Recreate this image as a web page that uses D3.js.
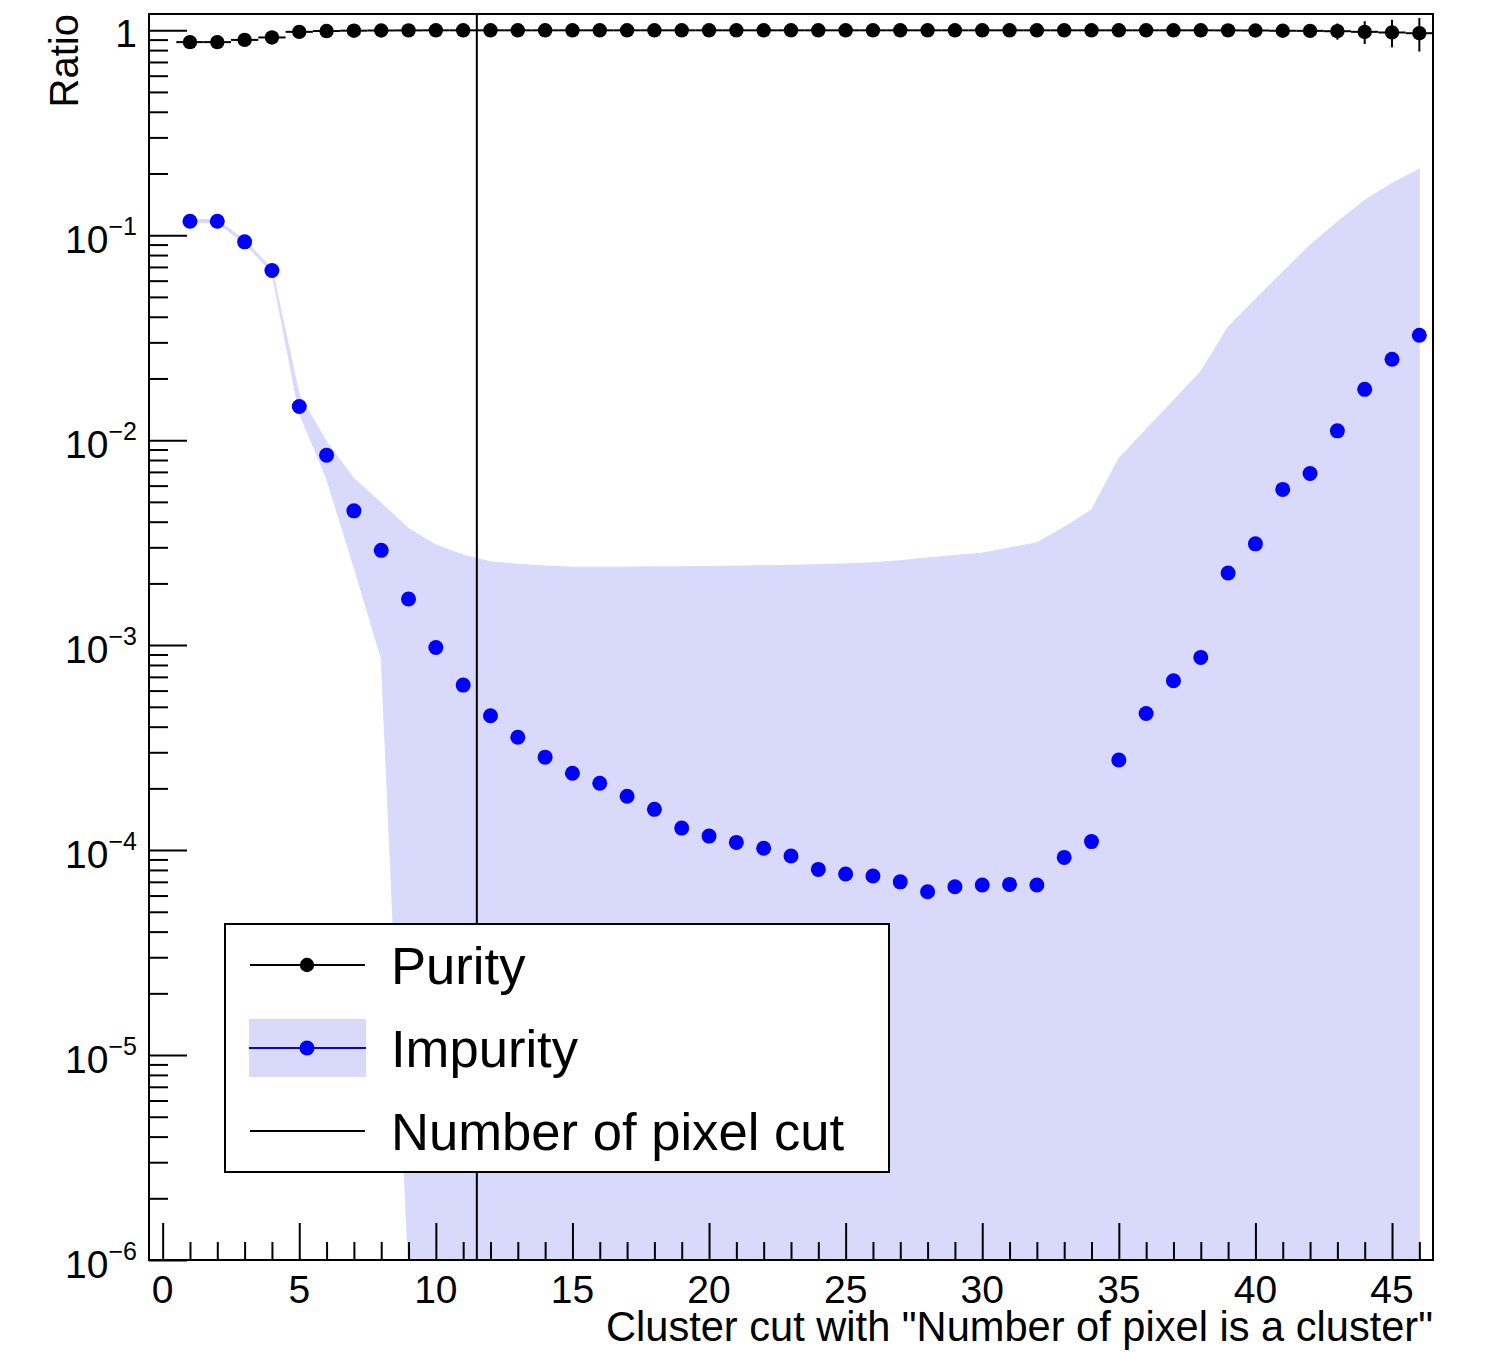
<!DOCTYPE html>
<html>
<head>
<meta charset="utf-8">
<script src="https://cdn.jsdelivr.net/npm/d3@7"></script>
<style>
  body { margin: 0; background: #fff; }
  svg { display: block; }
  text { font-family: "Liberation Sans", Arial, Helvetica, sans-serif; fill: #000; }
</style>
</head>
<body>
<svg id="chart" width="1485" height="1352"></svg>
<script>
// Cluster-size cut (number of pixels in a cluster)
const cuts = [1, 2, 3, 4, 5, 6, 7, 8, 9, 10, 11, 12, 13, 14, 15, 16, 17, 18, 19, 20, 21, 22, 23,
              24, 25, 26, 27, 28, 29, 30, 31, 32, 33, 34, 35, 36, 37, 38, 39, 40, 41, 42, 43, 44, 45, 46];

// Purity with symmetric uncertainty
const purity = [0.875, 0.875, 0.897, 0.922, 0.982, 0.991, 0.995, 0.997, 0.998, 0.999, 0.999, 0.999,
                0.999, 0.999, 0.999, 0.999, 0.999, 0.999, 0.999, 0.999, 0.999, 0.999, 0.999, 0.999,
                0.999, 0.999, 0.999, 0.999, 0.999, 0.999, 0.999, 0.999, 0.999, 0.999, 0.999, 0.999,
                0.999, 0.999, 0.998, 0.997, 0.994, 0.993, 0.989, 0.982, 0.975, 0.967];
const purityErr = [0.002, 0.002, 0.002, 0.002, 0.003, 0.003, 0.003, 0.004, 0.004, 0.004, 0.005, 0.005,
                   0.005, 0.006, 0.006, 0.006, 0.007, 0.007, 0.008, 0.008, 0.009, 0.009, 0.010, 0.010,
                   0.011, 0.011, 0.012, 0.012, 0.013, 0.014, 0.015, 0.016, 0.018, 0.020, 0.022, 0.025,
                   0.028, 0.031, 0.035, 0.042, 0.050, 0.065, 0.090, 0.125, 0.150, 0.180];

// Impurity and its asymmetric uncertainty band (lower / upper edges)
const impurity = [0.117, 0.117, 0.0928, 0.0673, 0.0146, 0.00845, 0.00452, 0.00290, 0.00168, 0.000974,
                  0.000638, 0.000452, 0.000355, 0.000284, 0.000237, 0.000212, 0.000183, 0.000158,
                  0.000128, 0.000117, 0.000109, 0.000102, 9.35e-5, 8.05e-5, 7.64e-5, 7.47e-5, 7.00e-5,
                  6.26e-5, 6.62e-5, 6.75e-5, 6.80e-5, 6.75e-5, 9.21e-5, 0.000110, 0.000275, 0.000464,
                  0.000670, 0.000871, 0.00225, 0.00312, 0.00575, 0.00688, 0.0111, 0.0177, 0.0248, 0.0325];
const impurityUp = [0.119, 0.119, 0.0945, 0.0686, 0.0166, 0.00981, 0.00650, 0.00493, 0.00371, 0.00308,
                    0.00275, 0.00255, 0.00248, 0.00243, 0.00240, 0.00240, 0.00240, 0.00241, 0.00241,
                    0.00242, 0.00243, 0.00244, 0.00245, 0.00247, 0.00249, 0.00252, 0.00258, 0.00266,
                    0.00274, 0.00281, 0.00298, 0.00316, 0.00376, 0.00456, 0.00814, 0.0113, 0.0156,
                    0.0216, 0.0357, 0.0488, 0.0662, 0.0894, 0.116, 0.148, 0.179, 0.210];
const impurityLow = [0.115, 0.115, 0.0911, 0.0660, 0.01354, 0.00650, 0.00241, 0.000865, 9e-7, 9e-7,
                     9e-7, 9e-7, 9e-7, 9e-7, 9e-7, 9e-7, 9e-7, 9e-7, 9e-7, 9e-7, 9e-7, 9e-7, 9e-7,
                     9e-7, 9e-7, 9e-7, 9e-7, 9e-7, 9e-7, 9e-7, 9e-7, 9e-7, 9e-7, 9e-7, 9e-7, 9e-7,
                     9e-7, 9e-7, 9e-7, 9e-7, 9e-7, 9e-7, 9e-7, 9e-7, 9e-7, 9e-7];

// Chosen cut on the number of pixels
const pixelCut = 11.5;

// Axis ticks
const xMajorTicks = [0, 5, 10, 15, 20, 25, 30, 35, 40, 45];
const xTickLabels = ["0", "5", "10", "15", "20", "25", "30", "35", "40", "45"];
const yDecades = [1e-6, 1e-5, 1e-4, 1e-3, 1e-2, 1e-1, 1];
const yDecadeExp = [-6, -5, -4, -3, -2, -1, 0];

const legendLabels = ["Purity", "Impurity", "Number of pixel cut"];

// ---------------------------------------------------------------------------
const svg = d3.select("#chart");
const frame = { left: 149, right: 1433, top: 14, bottom: 1260 };

const x = d3.scaleLinear().domain([-0.5, 46.5]).range([frame.left, frame.right]);
const y = d3.scaleLog().domain([1e-6, 1.2]).range([frame.bottom, frame.top]);

const bandColor = "rgb(217,217,252)";
const blue = "#0000ff";

svg.append("defs").append("clipPath").attr("id", "plotClip")
  .append("rect")
  .attr("x", frame.left).attr("y", frame.top)
  .attr("width", frame.right - frame.left).attr("height", frame.bottom - frame.top);

const plot = svg.append("g").attr("clip-path", "url(#plotClip)");

// Impurity uncertainty band
const bandData = cuts.map((c, i) => ({ c, lo: impurityLow[i], hi: impurityUp[i] }));
plot.append("path")
  .datum(bandData)
  .attr("fill", bandColor)
  .attr("stroke", bandColor)
  .attr("stroke-width", 1)
  .attr("d", d3.area().x(d => x(d.c)).y0(d => y(d.lo)).y1(d => y(d.hi)));

// Vertical cut line
plot.append("line")
  .attr("x1", x(pixelCut)).attr("x2", x(pixelCut))
  .attr("y1", frame.top).attr("y2", frame.bottom)
  .attr("stroke", "#000").attr("stroke-width", 2);

// Purity: horizontal (bin width) and vertical error bars, then markers
const purityData = cuts.map((c, i) => ({ c, v: purity[i], e: purityErr[i] }));
const pg = plot.append("g");
pg.selectAll("line.xerr").data(purityData).join("line")
  .attr("class", "xerr")
  .attr("x1", d => x(d.c - 0.5)).attr("x2", d => x(d.c + 0.5))
  .attr("y1", d => y(d.v)).attr("y2", d => y(d.v))
  .attr("stroke", "#000").attr("stroke-width", 2);
pg.selectAll("line.yerr").data(purityData).join("line")
  .attr("class", "yerr")
  .attr("x1", d => x(d.c)).attr("x2", d => x(d.c))
  .attr("y1", d => y(d.v + d.e)).attr("y2", d => y(d.v - d.e))
  .attr("stroke", "#000").attr("stroke-width", 2);
pg.selectAll("circle").data(purityData).join("circle")
  .attr("cx", d => x(d.c)).attr("cy", d => y(d.v)).attr("r", 7.2)
  .attr("fill", "#000");

// Impurity markers
const impData = cuts.map((c, i) => ({ c, v: impurity[i] }));
plot.append("g").selectAll("circle").data(impData).join("circle")
  .attr("cx", d => x(d.c)).attr("cy", d => y(d.v)).attr("r", 7.5)
  .attr("fill", blue);

// Frame
svg.append("rect")
  .attr("x", frame.left).attr("y", frame.top)
  .attr("width", frame.right - frame.left).attr("height", frame.bottom - frame.top)
  .attr("fill", "none").attr("stroke", "#000").attr("stroke-width", 2);

// X axis: ticks drawn inward
const xMinor = cuts.concat([0]).filter(v => !xMajorTicks.includes(v));
const xAxisMajor = d3.axisBottom(x).tickValues(xMajorTicks).tickSize(-37).tickFormat("");
const xAxisMinor = d3.axisBottom(x).tickValues(xMinor).tickSize(-18).tickFormat("");
[xAxisMajor, xAxisMinor].forEach(ax => {
  const g = svg.append("g").attr("transform", `translate(0,${frame.bottom})`).call(ax);
  g.select(".domain").remove();
  g.selectAll(".tick line").attr("stroke", "#000").attr("stroke-width", 2);
});
svg.append("g").selectAll("text").data(xMajorTicks).join("text")
  .attr("x", d => x(d)).attr("y", 1303)
  .attr("text-anchor", "middle").attr("font-size", 39)
  .text((d, i) => xTickLabels[i]);

// Y axis: log decades and 2..9 minor ticks
const yMinor = [];
yDecades.forEach(dec => { for (let k = 2; k <= 9; k++) { const v = dec * k; if (v <= 1.2) yMinor.push(v); } });
const yAxisMajor = d3.axisLeft(y).tickValues(yDecades).tickSize(-38).tickFormat("");
const yAxisMinor = d3.axisLeft(y).tickValues(yMinor).tickSize(-19).tickFormat("");
[yAxisMajor, yAxisMinor].forEach(ax => {
  const g = svg.append("g").attr("transform", `translate(${frame.left},0)`).call(ax);
  g.select(".domain").remove();
  g.selectAll(".tick line").attr("stroke", "#000").attr("stroke-width", 2);
});
const yLab = svg.append("g");
yDecades.forEach((v, i) => {
  const e = yDecadeExp[i];
  const t = yLab.append("text")
    .attr("x", 137).attr("y", y(v) + 18)
    .attr("text-anchor", "end").attr("font-size", 39);
  if (e === 0) {
    t.attr("y", y(v) + 17).text("1");
  } else {
    t.append("tspan").text("10");
    t.append("tspan").attr("dy", -18).attr("font-size", 25).text("\u2212" + Math.abs(e));
  }
});

// Axis titles
svg.append("text")
  .attr("x", frame.right).attr("y", 1341)
  .attr("text-anchor", "end").attr("font-size", 41.6)
  .text('Cluster cut with "Number of pixel is a cluster"');
svg.append("text")
  .attr("transform", `translate(78,${frame.top}) rotate(-90)`)
  .attr("text-anchor", "end").attr("font-size", 40)
  .text("Ratio");

// Legend
const lg = svg.append("g");
lg.append("rect")
  .attr("x", 225).attr("y", 924).attr("width", 664).attr("height", 248)
  .attr("fill", "#fff").attr("stroke", "#000").attr("stroke-width", 2);
const rows = [965, 1048, 1131];
// Purity entry
lg.append("line").attr("x1", 250).attr("x2", 365).attr("y1", rows[0]).attr("y2", rows[0])
  .attr("stroke", "#000").attr("stroke-width", 2);
lg.append("circle").attr("cx", 307).attr("cy", rows[0]).attr("r", 7.2).attr("fill", "#000");
// Impurity entry
lg.append("rect").attr("x", 249).attr("y", 1019).attr("width", 117).attr("height", 58).attr("fill", bandColor);
lg.append("line").attr("x1", 249).attr("x2", 366).attr("y1", rows[1]).attr("y2", rows[1])
  .attr("stroke", blue).attr("stroke-width", 2);
lg.append("circle").attr("cx", 307).attr("cy", rows[1]).attr("r", 7.5).attr("fill", blue);
// Cut line entry
lg.append("line").attr("x1", 250).attr("x2", 365).attr("y1", rows[2]).attr("y2", rows[2])
  .attr("stroke", "#000").attr("stroke-width", 2);
lg.selectAll("text.lab").data(legendLabels).join("text")
  .attr("class", "lab")
  .attr("x", 391).attr("y", (d, i) => rows[i] + 19)
  .attr("font-size", 52.6)
  .text(d => d);
</script>
</body>
</html>
